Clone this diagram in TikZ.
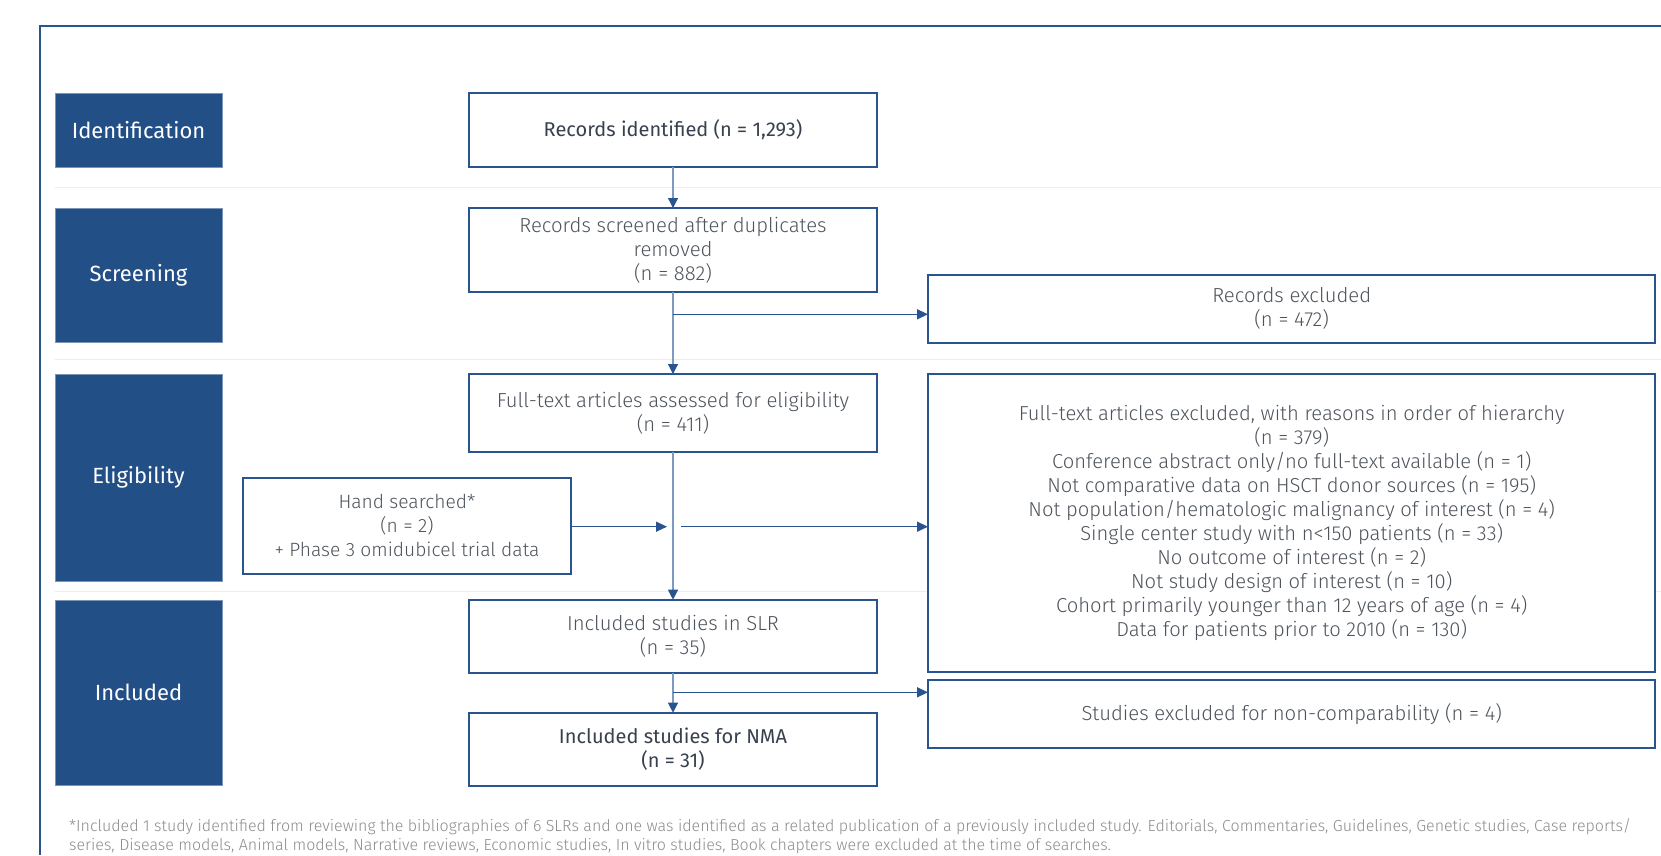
\documentclass[tikz,border=0pt]{standalone}
\usepackage{fontspec}
\setmainfont{Fira Sans Light}
\newfontfamily\regfont{Fira Sans}
\usetikzlibrary{arrows.meta}
\definecolor{navy}{HTML}{234F87}
\definecolor{bord}{HTML}{2A5490}
\definecolor{vline}{HTML}{7E9AC2}
\definecolor{txt}{HTML}{4E545C}
\definecolor{txtdark}{HTML}{38414D}
\definecolor{sep}{HTML}{EDEDED}
\definecolor{foot}{HTML}{8C8C8C}
\begin{document}
\begin{tikzpicture}[x=1pt,y=-1pt,
  phase/.style={fill=navy, draw=navy!60, line width=0.8pt, text=white,
    font=\regfont\fontsize{22}{26}\selectfont, anchor=north west, inner sep=0pt, outer sep=0pt},
  flow/.style={draw=bord, line width=2pt, fill=white, text=txt, align=center,
    font=\fontsize{20.3}{24}\selectfont, anchor=north west, inner sep=0pt, outer sep=0pt},
  flowbig/.style={flow, font=\fontsize{20.2}{24}\selectfont},
  flowhand/.style={flow, font=\fontsize{19.2}{24}\selectfont},
  flowdark/.style={flow, text=txtdark, font=\regfont\fontsize{20}{24}\selectfont},
  vconn/.style={draw=vline, line width=1.2pt, -{Triangle[length=10pt,width=10pt,color=bord]}},
  hconn/.style={draw=bord, line width=1.4pt, -{Triangle[length=11pt,width=10pt,color=bord]}},
  sepline/.style={draw=sep, line width=1pt},
  frame/.style={draw=bord, line width=2pt},
  foottext/.style={anchor=west, text=foot, font=\fontsize{16}{19}\selectfont, inner sep=0pt}
]
\useasboundingbox (0,0) rectangle (1661,855);
\fill[white] (0,0) rectangle (1661,855);
% frame
\coordinate (fTL) at (40,26);
\coordinate (fTR) at (1661,26);
\coordinate (fBL) at (40,855);
\draw[frame] (fTR) -- (fTL) -- (fBL);
% separators
\coordinate (s1a) at (55,187.3); \coordinate (s1b) at (1661,187.3);
\coordinate (s2a) at (55,359.3); \coordinate (s2b) at (1661,359.3);
\coordinate (s3a) at (55,591);   \coordinate (s3b) at (1661,591);
\draw[sepline] (s1a) -- (s1b);
\draw[sepline] (s2a) -- (s2b);
\draw[sepline] (s3a) -- (s3b);
% phase labels
\node[phase, minimum width=167pt, minimum height=73.5pt] (idph) at (55,93.5) {Identification};
\node[phase, minimum width=167pt, minimum height=134pt] (scph) at (55,208.3) {Screening};
\node[phase, minimum width=167pt, minimum height=206.7pt] (elph) at (55,374.3) {Eligibility};
\node[phase, minimum width=167pt, minimum height=185pt] (inph) at (55,600.3) {Included};
% flow boxes
\node[flowdark, minimum width=408pt, minimum height=73.7pt] (recid) at (469,93.3) {Records identified (n = 1,293)};
\node[flow, minimum width=408pt, minimum height=84.3pt] (screen) at (469,208) {Records screened after duplicates\\removed\\(n = 882)};
\node[flow, minimum width=408pt, minimum height=78pt] (full) at (469,374) {Full-text articles assessed for eligibility\\(n = 411)};
\node[flowhand, minimum width=328.4pt, minimum height=96pt] (hand) at (242.8,477.7) {Hand searched*\\(n = 2)\\+ Phase 3 omidubicel trial data};
\node[flow, minimum width=408pt, minimum height=73.3pt] (slr) at (469,599.7) {Included studies in SLR\\(n = 35)};
\node[flowdark, minimum width=408pt, minimum height=73.3pt] (nma) at (469,712.7) {Included studies for NMA\\(n = 31)};
\node[flow, minimum width=727.4pt, minimum height=68pt] (recex) at (928,274.7) {Records excluded\\(n = 472)};
\node[flowbig, minimum width=727.4pt, minimum height=298pt] (ftex) at (928,374) {Full-text articles excluded, with reasons in order of hierarchy\\(n = 379)\\Conference abstract only/no full-text available (n = 1)\\Not comparative data on HSCT donor sources (n = 195)\\Not population/hematologic malignancy of interest (n = 4)\\Single center study with n<150 patients (n = 33)\\No outcome of interest (n = 2)\\Not study design of interest (n = 10)\\Cohort primarily younger than 12 years of age (n = 4)\\Data for patients prior to 2010 (n = 130)};
\node[flow, minimum width=727.4pt, minimum height=68pt] (studex) at (928,680.3) {Studies excluded for non-comparability (n = 4)};
% branch points
\coordinate (b1) at (673,314.3);
\coordinate (h1) at (667,526.7);
\coordinate (h2) at (680.7,526.7);
\coordinate (b3) at (673,692.3);
% connectors
\draw[vconn] (recid.south) -- (screen.north);
\draw[vconn] (screen.south) -- (full.north);
\draw[hconn] (b1) -- (b1 -| recex.west);
\draw[hconn] (h1 -| hand.east) -- (h1);
\draw[hconn] (h2) -- (h2 -| ftex.west);
\draw[vconn] (full.south) -- (slr.north);
\draw[vconn] (slr.south) -- (nma.north);
\draw[hconn] (b3) -- (b3 -| studex.west);
% footnote
\node[foottext] (fn1) at (69,826.7) {*Included 1 study identified from reviewing the bibliographies of 6 SLRs and one was identified as a related publication of a previously included study. Editorials, Commentaries, Guidelines, Genetic studies, Case reports/};
\node[foottext] (fn2) at (69,845.7) {series, Disease models, Animal models, Narrative reviews, Economic studies, In vitro studies, Book chapters were excluded at the time of searches.};
\end{tikzpicture}
\end{document}
